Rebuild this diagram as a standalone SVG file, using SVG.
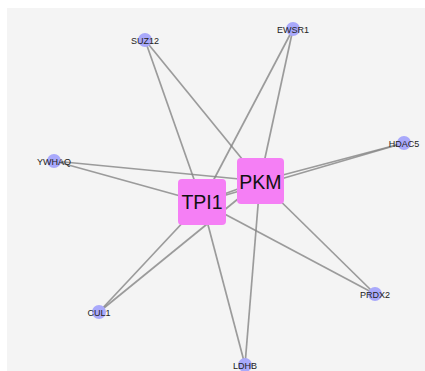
<svg xmlns="http://www.w3.org/2000/svg" width="425" height="371" viewBox="0 0 425 371">
<style>
.edge{stroke:#858585;stroke-opacity:0.8;stroke-width:1.7;fill:none}
.small circle{fill:#a9a9fb}
.small text{font-family:"Liberation Sans",Arial,sans-serif;font-size:9px;fill:#222;text-anchor:middle}
.hub rect{fill:#f57ff5}
.hub text{font-family:"Liberation Sans",Arial,sans-serif;font-size:19.5px;fill:#111;text-anchor:middle}
</style>
<rect x="0" y="0" width="425" height="371" fill="#ffffff"/>
<rect x="7" y="8" width="418" height="363" fill="#f4f4f4"/>
<g id="edges">
<line class="edge" x1="145" y1="40" x2="202" y2="202"/>
<line class="edge" x1="145" y1="40" x2="260" y2="181"/>
<line class="edge" x1="293" y1="29" x2="202" y2="202"/>
<line class="edge" x1="293" y1="29" x2="260" y2="181"/>
<line class="edge" x1="404" y1="143" x2="260" y2="181"/>
<line class="edge" x1="404" y1="143" x2="202" y2="202"/>
<line class="edge" x1="54" y1="161" x2="260" y2="181"/>
<line class="edge" x1="54" y1="161" x2="202" y2="202"/>
<line class="edge" x1="99" y1="312" x2="202" y2="202"/>
<line class="edge" x1="99" y1="312" x2="260" y2="181"/>
<line class="edge" x1="245" y1="365" x2="202" y2="202"/>
<line class="edge" x1="245" y1="365" x2="260" y2="181"/>
<line class="edge" x1="375" y1="294" x2="260" y2="181"/>
<line class="edge" x1="375" y1="294" x2="202" y2="202"/>
<line class="edge" x1="202" y1="202" x2="260" y2="181"/>
</g>
<g id="SUZ12" class="small"><circle cx="145" cy="40" r="7"/><text x="145" y="43.5">SUZ12</text></g>
<g id="EWSR1" class="small"><circle cx="293" cy="29" r="7"/><text x="293" y="32.5">EWSR1</text></g>
<g id="HDAC5" class="small"><circle cx="404" cy="143" r="7"/><text x="404" y="146.5">HDAC5</text></g>
<g id="YWHAQ" class="small"><circle cx="54" cy="161" r="7"/><text x="54" y="164.5">YWHAQ</text></g>
<g id="CUL1" class="small"><circle cx="99" cy="312" r="7"/><text x="99" y="315.5">CUL1</text></g>
<g id="LDHB" class="small"><circle cx="245" cy="365" r="7"/><text x="245" y="368.5">LDHB</text></g>
<g id="PRDX2" class="small"><circle cx="375" cy="294" r="7"/><text x="375" y="297.5">PRDX2</text></g>
<g id="TPI1" class="hub"><rect x="178" y="179" width="48" height="46" rx="4"/><text x="202" y="209">TPI1</text></g>
<g id="PKM" class="hub"><rect x="237" y="158" width="47" height="46" rx="4"/><text x="260.5" y="189">PKM</text></g>
</svg>
